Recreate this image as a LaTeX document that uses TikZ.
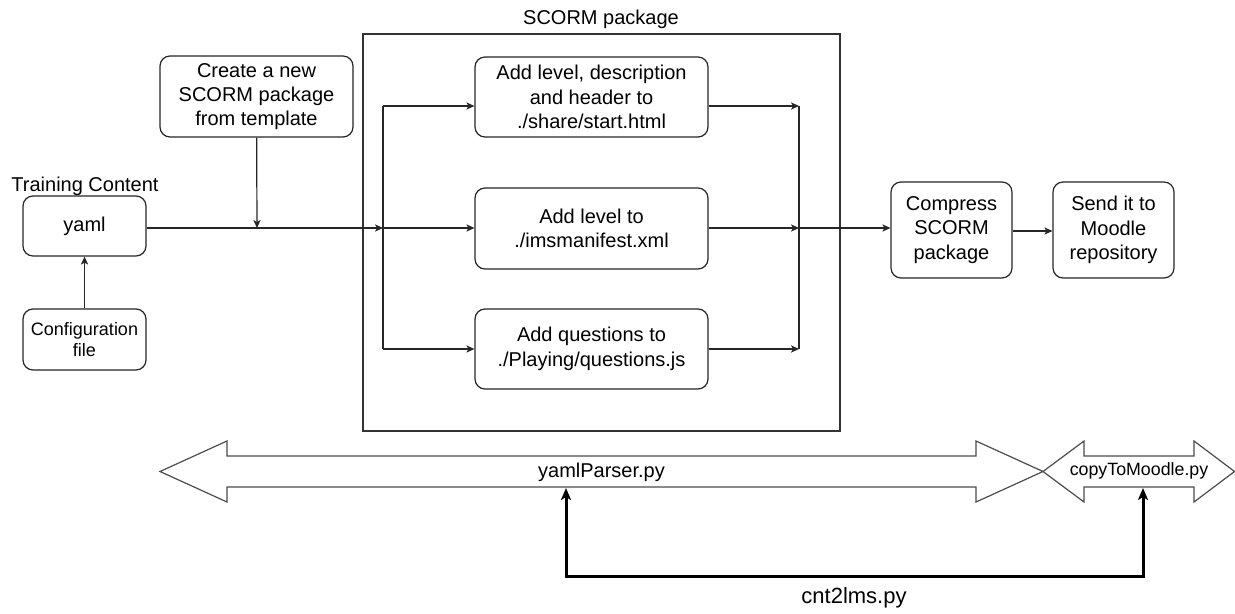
\documentclass[tikz,border=0pt]{standalone}
\usepackage{fontspec}
\setmainfont{Liberation Sans}
\usetikzlibrary{arrows.meta}
\begin{document}
\begin{tikzpicture}[x=0.5pt,y=-0.5pt,
  every node/.style={inner sep=0pt, font=\fontsize{10}{12.2}\selectfont, align=center},
  boxstyle/.style={draw=black!85, line width=0.6pt, rounded corners=5pt, fill=white},
  flow/.style={draw=black!85, line width=0.6pt, -{Stealth[length=4pt,width=3.6pt,inset=1pt]}},
  bus/.style={draw=black!85, line width=1pt},
  fat/.style={draw=black!70, line width=0.6pt, fill=white, line join=miter},
  bold/.style={draw=black, line width=1.5pt, {Stealth[length=6pt,width=5pt,inset=1.5pt]}-{Stealth[length=6pt,width=5pt,inset=1.5pt]}}
]
\useasboundingbox (0,0) rectangle (1235,614);

% SCORM package container
\node[draw=black!80, line width=0.6pt, minimum width=238.5pt, minimum height=198.5pt] (pkg) at (601.5,232.5) {};
\node (pkglbl) at (601,19) {SCORM package};

% left nodes
\node (tclbl) at (85,186) {Training Content};
\node[boxstyle, minimum width=61.5pt, minimum height=30pt] (yaml) at (84.5,226) {yaml};
\node[boxstyle, minimum width=61.5pt, minimum height=30.5pt, font=\fontsize{9}{10.2}\selectfont] (conf) at (84.5,339.5) {Configuration\\file};
\node[boxstyle, minimum width=96.5pt, minimum height=40.5pt] (create) at (256.5,96.5) {Create a new\\SCORM package\\from template};

% inner steps
\node[boxstyle, minimum width=116.5pt, minimum height=40pt] (add1) at (591.5,97) {Add level, description\\and header to\\./share/start.html};
\node[boxstyle, minimum width=116.5pt, minimum height=40.5pt] (add2) at (591.5,228.5) {Add level to\\./imsmanifest.xml};
\node[boxstyle, minimum width=116.5pt, minimum height=40pt] (add3) at (591.5,349) {Add questions to\\./Playing/questions.js};

% right nodes
\node[boxstyle, minimum width=60.5pt, minimum height=48pt] (comp) at (951.5,230) {Compress\\SCORM\\package};
\node[boxstyle, minimum width=60.5pt, minimum height=48pt] (send) at (1113.5,230) {Send it to\\Moodle\\repository};

% junction coordinates
\coordinate (jin) at (383,228);
\coordinate (jtop) at (383,106);
\coordinate (jbot) at (383,349);
\coordinate (rtop) at (799,106);
\coordinate (rmid) at (799,228);
\coordinate (rbot) at (799,349);
\coordinate (merge) at (257,228);

% connectors
\draw[flow] (conf) -- (yaml);
\draw[draw=black!85, line width=0.6pt] (yaml.east |- jin) -- (merge);
\draw[flow] (merge) -- (jin);
\draw[flow] (create) -- (merge);
\draw[bus] (jtop) -- (jbot);
\draw[flow] (jtop) -- (jtop -| add1.west);
\draw[flow] (jin) -- (jin -| add2.west);
\draw[flow] (jbot) -- (jbot -| add3.west);
\draw[flow] (add1.east |- rtop) -- (rtop);
\draw[flow] (add2.east |- rmid) -- (rmid);
\draw[flow] (add3.east |- rbot) -- (rbot);
\draw[bus] (rtop) -- (rbot);
\draw[flow] (rmid) -- (comp.west |- rmid);
\draw[flow] (comp.east |- 0,231) -- (send.west |- 0,231);

% block arrows
\draw[fat] (160,471.5) -- (227,441) -- (227,456) -- (976,456) -- (976,441) -- (1043,471.5)
  -- (976,502) -- (976,487) -- (227,487) -- (227,502) -- cycle;
\draw[fat] (1043,471.5) -- (1084,441) -- (1084,456) -- (1194,456) -- (1194,441) -- (1234.5,471.5)
  -- (1194,502) -- (1194,487) -- (1084,487) -- (1084,502) -- cycle;
\node (yp) at (601.5,472) {yamlParser.py};
\node[font=\fontsize{8.9}{10}\selectfont] (cm) at (1139,471) {copyToMoodle.py};

\coordinate (ypin) at (566,488);
\coordinate (cmin) at (1143,488);
\draw[bold] (ypin) -- (566,576) -| (cmin);
\node[font=\fontsize{11}{12}\selectfont] (cnt) at (854,598) {cnt2lms.py};
\end{tikzpicture}
\end{document}
